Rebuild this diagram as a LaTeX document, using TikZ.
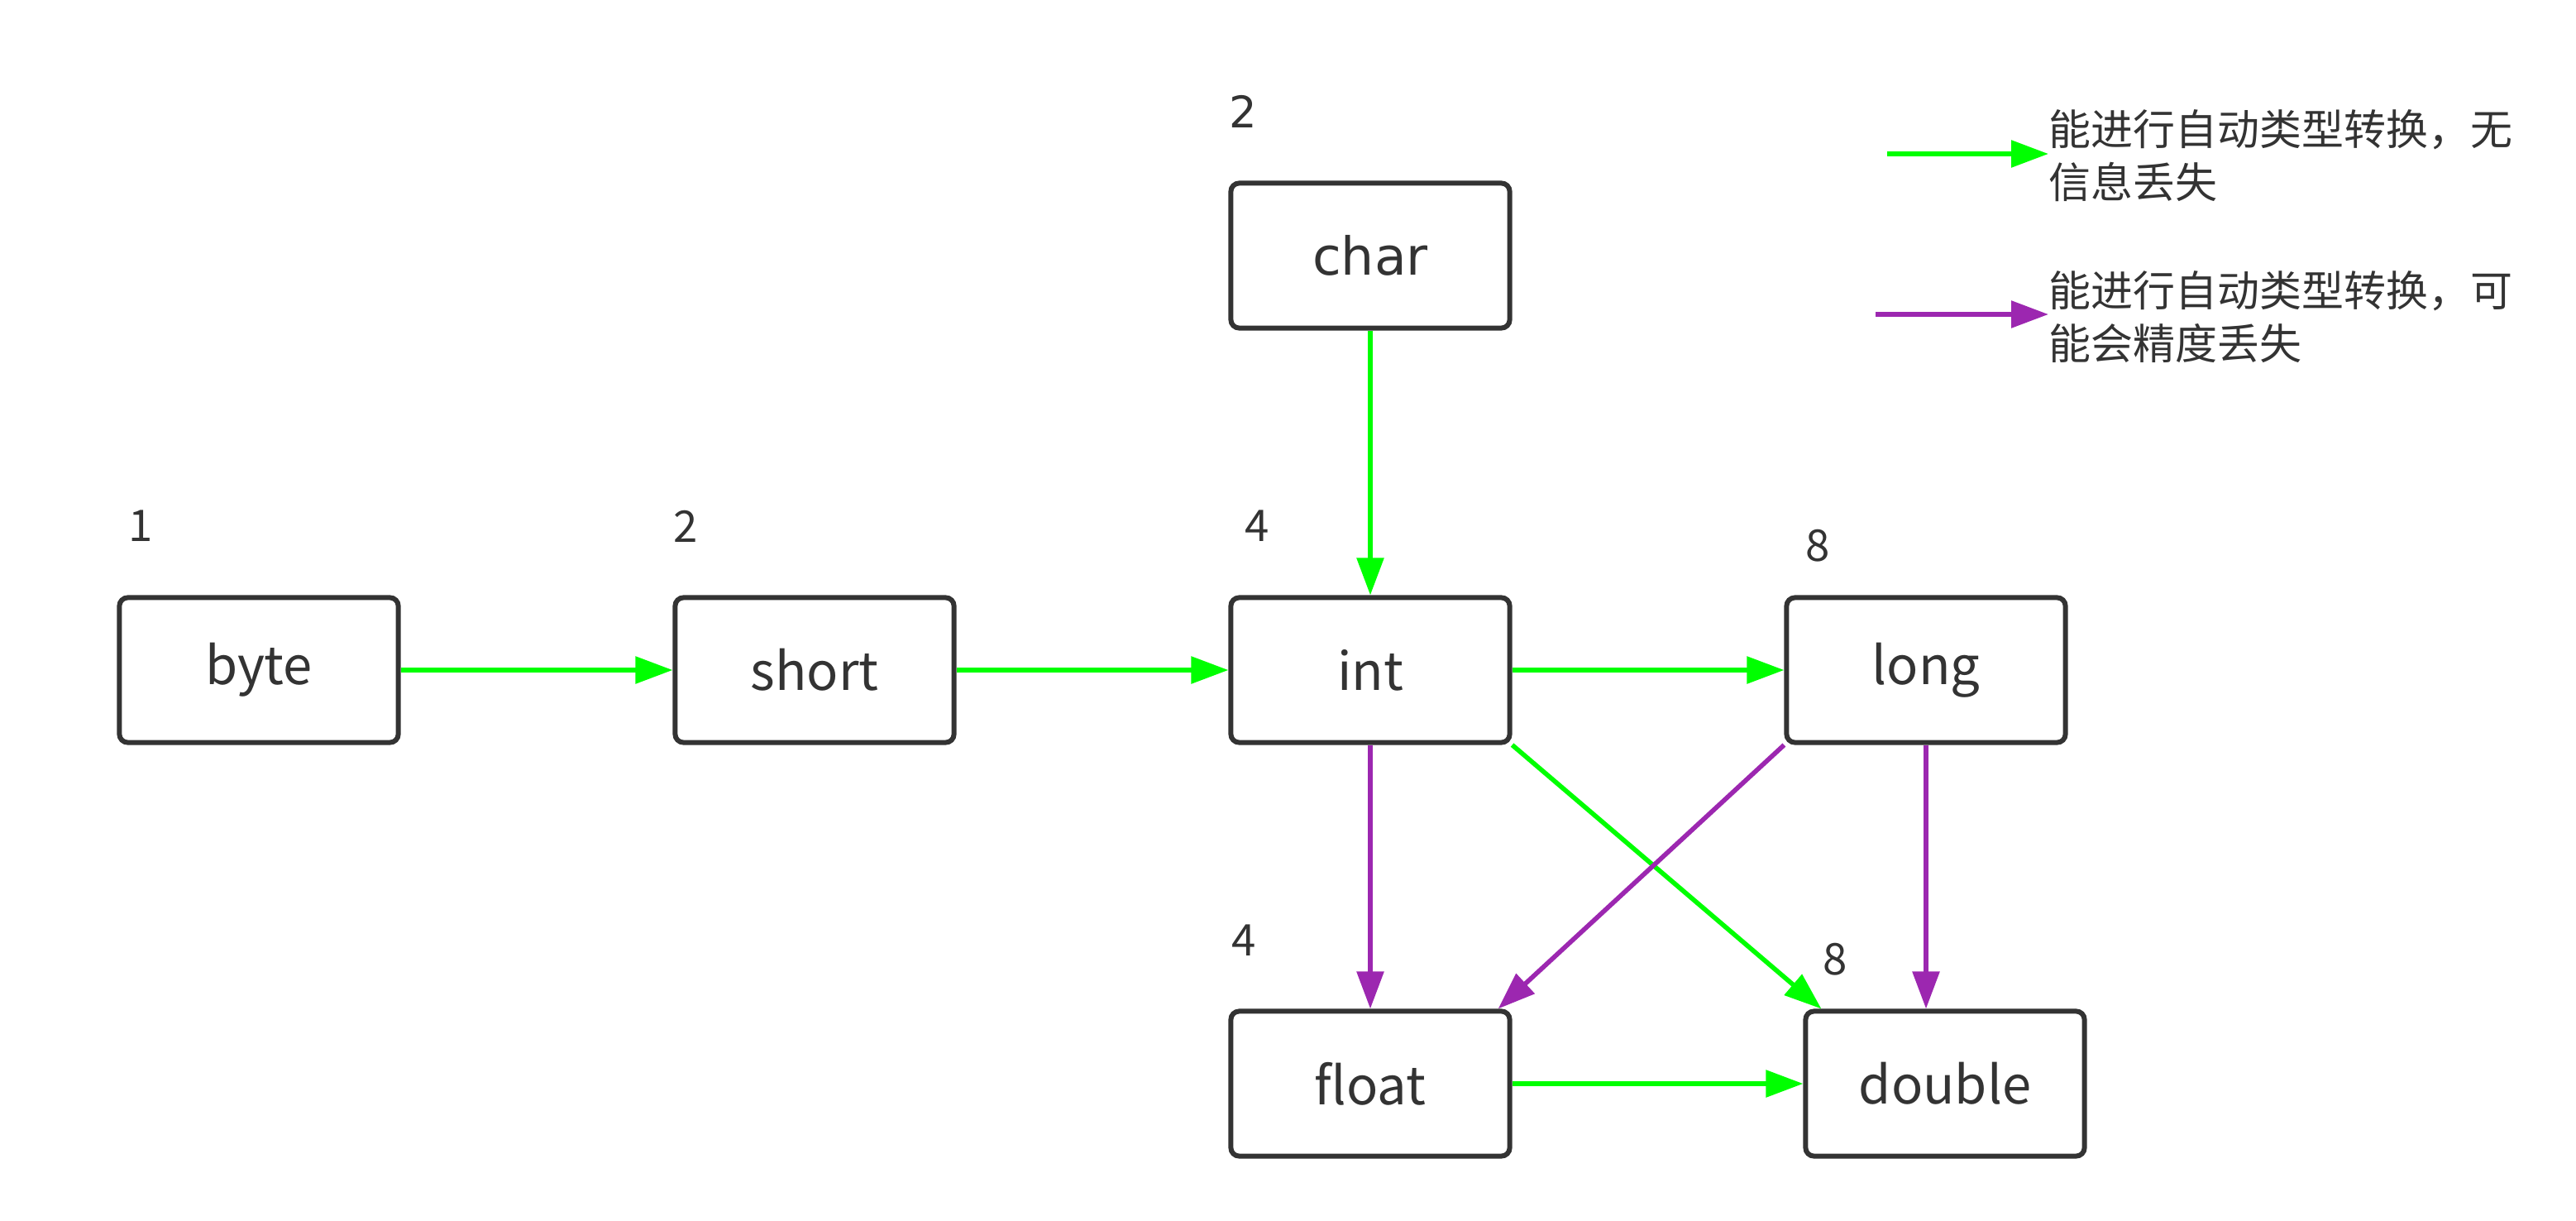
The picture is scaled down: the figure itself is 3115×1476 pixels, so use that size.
\documentclass[tikz,border=0pt]{standalone}
\usepackage{fontspec}
\setmainfont{Noto Sans CJK SC}
\newfontfamily\charfont{DejaVu Sans}
\usepackage{tikz}
\usetikzlibrary{positioning}
\usetikzlibrary{arrows.meta}
\definecolor{boxgray}{HTML}{333333}
\definecolor{safegreen}{HTML}{00FF00}
\definecolor{lossviolet}{HTML}{9C27B0}
\tikzset{%
  block/.style    = {draw=boxgray, line width=1.7pt, rectangle, rounded corners=0.1cm,
    minimum height=1.75cm, minimum width=3.37cm, text=boxgray,
    font=\fontsize{18}{22}\selectfont},
  bytes/.style    = {text=boxgray, font=\fontsize{15}{18}\selectfont}, % size in bytes
  legend/.style   = {text=boxgray, align=left, anchor=west, inner sep=0pt,
    font=\fontsize{14.5}{18}\selectfont},
  widen/.style    = {->, line width=1.6pt, draw=safegreen}, % no loss
  narrow/.style   = {->, line width=1.6pt, draw=lossviolet} % precision loss
}
\begin{document}
\begin{tikzpicture}[x=0.01cm, y=-0.01cm, >={Triangle[length=4.5mm, width=3.2mm]}]
  \useasboundingbox (0,0) rectangle (3115,1476);

  \draw node at (313,810) [block] (byte) {byte};
  \draw node at (985,810) [block] (short) {short};
  \draw node at (1657,810) [block] (int) {int};
  \draw node at (2329,810) [block] (long) {long};
  \draw node at (1657,309) [block] (char) {\charfont char};
  \draw node at (1657,1310) [block] (float) {float};
  \draw node at (2352,1310) [block] (double) {double};

  \node at (170,636) [bytes] (n1) {1};
  \node at (829,636) [bytes] (n2) {2};
  \node at (1503,135) [bytes] (n3) {\charfont 2};
  \node at (1520,636) [bytes] (n4) {4};
  \node at (2198,660) [bytes] (n5) {8};
  \node at (1504,1137) [bytes] (n6) {4};
  \node at (2219,1160) [bytes] (n7) {8};

  \draw[widen] (byte) -- (short);
  \draw[widen] (short) -- (int);
  \draw[widen] (int) -- (long);
  \draw[widen] (char) -- (int);
  \draw[narrow] (int) -- (float);
  \draw[narrow] (long.south) -- (long.south |- double.north);
  \draw[widen] (int.south east) -- ([xshift=0.22cm]double.north west);
  \draw[narrow] (long.south west) -- ([xshift=-0.17cm]float.north east);
  \draw[widen] (float) -- (double);

  % legend
  \node at (2477,188) [legend] (lgreen) {能进行自动类型转换，无\\信息丢失};
  \node at (2477,383) [legend] (lviolet) {能进行自动类型转换，可\\能会精度丢失};
  \coordinate (g0) at (2282,186);
  \coordinate (v0) at (2268,380);
  \draw[widen] (g0) -- (g0 -| lgreen.west);
  \draw[narrow] (v0) -- (v0 -| lviolet.west);

\end{tikzpicture}
\end{document}
